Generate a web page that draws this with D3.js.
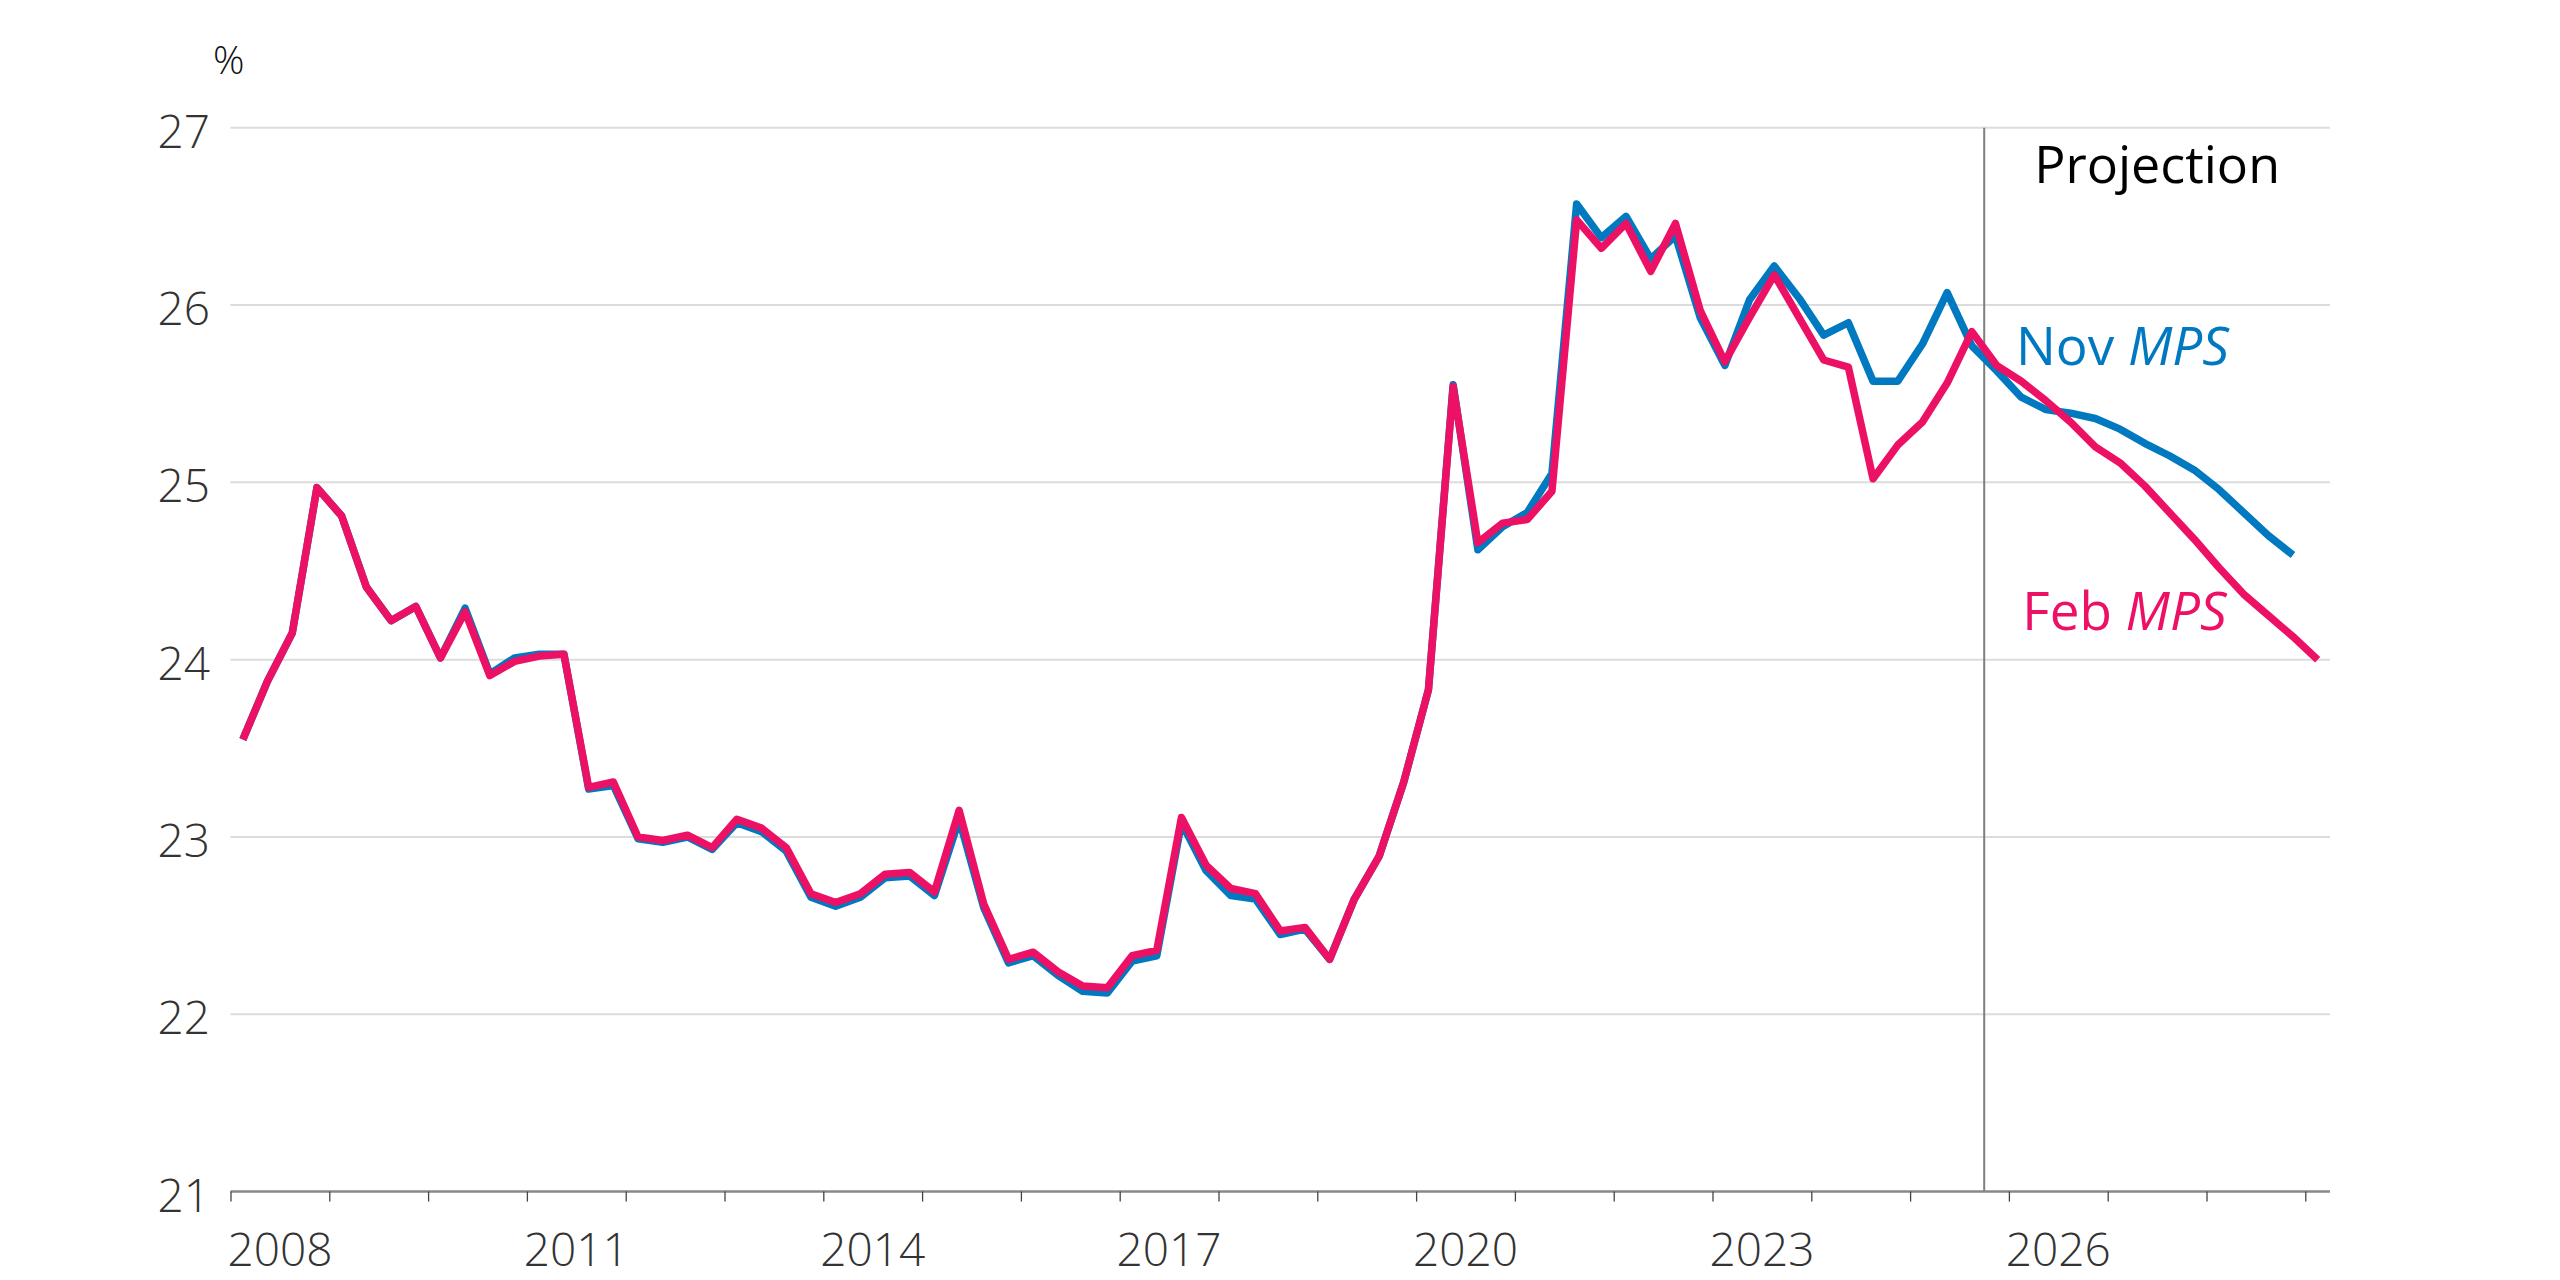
<!DOCTYPE html>
<html>
<head>
<meta charset="utf-8">
<script src="https://cdn.jsdelivr.net/npm/d3@7"></script>
<style>
  body { margin: 0; background: #fff; }
  svg { display: block; font-family: 'Open Sans', 'Noto Sans', sans-serif; }
</style>
</head>
<body>
<svg id="chart" width="2560" height="1280"></svg>
<script>
// quarterly observations, 2008 Q1 to 2029 Q1
const quarters = [
  '2008Q1', '2008Q2', '2008Q3', '2008Q4',
  '2009Q1', '2009Q2', '2009Q3', '2009Q4',
  '2010Q1', '2010Q2', '2010Q3', '2010Q4',
  '2011Q1', '2011Q2', '2011Q3', '2011Q4',
  '2012Q1', '2012Q2', '2012Q3', '2012Q4',
  '2013Q1', '2013Q2', '2013Q3', '2013Q4',
  '2014Q1', '2014Q2', '2014Q3', '2014Q4',
  '2015Q1', '2015Q2', '2015Q3', '2015Q4',
  '2016Q1', '2016Q2', '2016Q3', '2016Q4',
  '2017Q1', '2017Q2', '2017Q3', '2017Q4',
  '2018Q1', '2018Q2', '2018Q3', '2018Q4',
  '2019Q1', '2019Q2', '2019Q3', '2019Q4',
  '2020Q1', '2020Q2', '2020Q3', '2020Q4',
  '2021Q1', '2021Q2', '2021Q3', '2021Q4',
  '2022Q1', '2022Q2', '2022Q3', '2022Q4',
  '2023Q1', '2023Q2', '2023Q3', '2023Q4',
  '2024Q1', '2024Q2', '2024Q3', '2024Q4',
  '2025Q1', '2025Q2', '2025Q3', '2025Q4',
  '2026Q1', '2026Q2', '2026Q3', '2026Q4',
  '2027Q1', '2027Q2', '2027Q3', '2027Q4',
  '2028Q1', '2028Q2', '2028Q3', '2028Q4',
  '2029Q1',
];

const novMPS = [
  23.55, 23.88, 24.15, 24.97, 24.81, 24.41, 24.22, 24.30,
  24.01, 24.29, 23.92, 24.01, 24.03, 24.03, 23.27, 23.29,
  22.99, 22.97, 23.00, 22.93, 23.08, 23.03, 22.92, 22.66,
  22.61, 22.66, 22.77, 22.78, 22.67, 23.10, 22.60, 22.29,
  22.33, 22.22, 22.13, 22.12, 22.30, 22.33, 23.08, 22.81,
  22.67, 22.65, 22.45, 22.48, 22.31, 22.65, 22.89, 23.31,
  23.83, 25.55, 24.62, 24.75, 24.83, 25.05, 26.57, 26.38,
  26.50, 26.26, 26.39, 25.93, 25.66, 26.03, 26.22, 26.04,
  25.83, 25.90, 25.57, 25.57, 25.78, 26.07, 25.77, 25.63,
  25.48, 25.41, 25.39, 25.36, 25.30, 25.22, 25.15, 25.07,
  24.96, 24.83, 24.70, 24.59,
];

const febMPS = [
  23.55, 23.88, 24.15, 24.97, 24.81, 24.41, 24.22, 24.30,
  24.01, 24.27, 23.91, 23.99, 24.02, 24.03, 23.28, 23.31,
  23.00, 22.98, 23.01, 22.94, 23.10, 23.05, 22.94, 22.68,
  22.63, 22.68, 22.79, 22.80, 22.69, 23.15, 22.62, 22.31,
  22.35, 22.24, 22.16, 22.15, 22.33, 22.36, 23.11, 22.84,
  22.71, 22.68, 22.47, 22.49, 22.31, 22.65, 22.89, 23.31,
  23.83, 25.54, 24.66, 24.77, 24.79, 24.95, 26.48, 26.32,
  26.46, 26.19, 26.46, 25.97, 25.68, 25.93, 26.17, 25.93,
  25.69, 25.65, 25.02, 25.21, 25.34, 25.56, 25.85, 25.66,
  25.57, 25.46, 25.34, 25.20, 25.11, 24.98, 24.83, 24.68,
  24.52, 24.37, 24.25, 24.13, 24.00,
];

const yTicks = [21, 22, 23, 24, 25, 26, 27];
const yearTicks = d3.range(2008, 2030);
const yearLabels = ['2008', '2011', '2014', '2017', '2020', '2023', '2026'];
const projectionStart = '2025Q4';

const blue = '#0079c1';
const pink = '#ec1165';

// quarter string -> decimal year at the middle of the quarter
function quarterMid(q) {
  const year = +q.slice(0, 4);
  const n = +q.slice(5);
  return year + (n - 1) / 4 + 0.125;
}
function quarterStart(q) {
  return +q.slice(0, 4) + (+q.slice(5) - 1) / 4;
}

const svg = d3.select('#chart');
const margin = { left: 230.5, right: 230, top: 127.7, bottom: 88.4 };
const width = +svg.attr('width');
const height = +svg.attr('height');

const x = d3.scaleLinear().domain([2008, 2029.25]).range([margin.left, width - margin.right]);
const y = d3.scaleLinear().domain([21, 27]).range([height - margin.bottom, margin.top]);

// gridlines
svg.append('g')
  .selectAll('line')
  .data(yTicks.filter((d) => d > 21))
  .enter()
  .append('line')
  .attr('x1', x(2008))
  .attr('x2', x(2029.25))
  .attr('y1', (d) => y(d))
  .attr('y2', (d) => y(d))
  .attr('stroke', '#dcdcdc')
  .attr('stroke-width', 2);

// y labels
svg.append('g')
  .selectAll('text')
  .data(yTicks)
  .enter()
  .append('text')
  .attr('x', 210)
  .attr('y', (d) => y(d) + 20)
  .attr('text-anchor', 'end')
  .attr('font-size', 46)
  .attr('font-weight', 300)
  .attr('fill', '#333')
  .text((d) => d);

svg.append('text')
  .attr('x', 213)
  .attr('y', 74)
  .attr('font-size', 39)
  .attr('font-weight', 300)
  .attr('fill', '#111')
  .text('%');

// projection marker
svg.append('line')
  .attr('x1', x(quarterStart(projectionStart)))
  .attr('x2', x(quarterStart(projectionStart)))
  .attr('y1', y(27))
  .attr('y2', y(21))
  .attr('stroke', '#7f7f7f')
  .attr('stroke-width', 2);

// x axis
const xAxis = d3.axisBottom(x)
  .tickValues(yearTicks)
  .tickSize(10)
  .tickFormat('');
const xAxisG = svg.append('g')
  .attr('transform', `translate(0,${y(21)})`)
  .call(xAxis);
xAxisG.select('.domain')
  .attr('d', `M${x(2008)},0H${x(2029.25)}`)
  .attr('stroke', '#888')
  .attr('stroke-width', 2.5);
xAxisG.selectAll('.tick line').attr('stroke', '#444').attr('stroke-width', 1.3);

svg.append('g')
  .selectAll('text')
  .data(yearLabels)
  .enter()
  .append('text')
  .attr('x', (d) => x(+d + 0.5))
  .attr('y', 1266)
  .attr('text-anchor', 'middle')
  .attr('font-size', 46)
  .attr('font-weight', 300)
  .attr('fill', '#333')
  .text((d) => d);

// series
const line = d3.line()
  .x((d) => x(quarterMid(d.q)))
  .y((d) => y(d.v));

const serieses = [
  { name: 'Nov', values: novMPS, color: blue },
  { name: 'Feb', values: febMPS, color: pink },
];

serieses.forEach((s) => {
  svg.append('path')
    .datum(s.values.map((v, i) => ({ q: quarters[i], v })))
    .attr('d', line)
    .attr('fill', 'none')
    .attr('stroke', s.color)
    .attr('stroke-width', 7.5)
    .attr('stroke-linejoin', 'round');
});

// annotations
svg.append('text')
  .attr('x', x(2027.5))
  .attr('y', y(26.69))
  .attr('text-anchor', 'middle')
  .attr('font-size', 52)
  .attr('fill', '#000')
  .text('Projection');

const labels = [
  { name: 'Nov', color: blue, at: [2027.15, 25.66] },
  { name: 'Feb', color: pink, at: [2027.17, 24.17] },
];
labels.forEach((l) => {
  const t = svg.append('text')
    .attr('x', x(l.at[0]))
    .attr('y', y(l.at[1]))
    .attr('text-anchor', 'middle')
    .attr('font-size', 53)
    .attr('fill', l.color);
  t.append('tspan').text(l.name + ' ');
  t.append('tspan').attr('font-style', 'italic').text('MPS');
});
</script>
</body>
</html>
